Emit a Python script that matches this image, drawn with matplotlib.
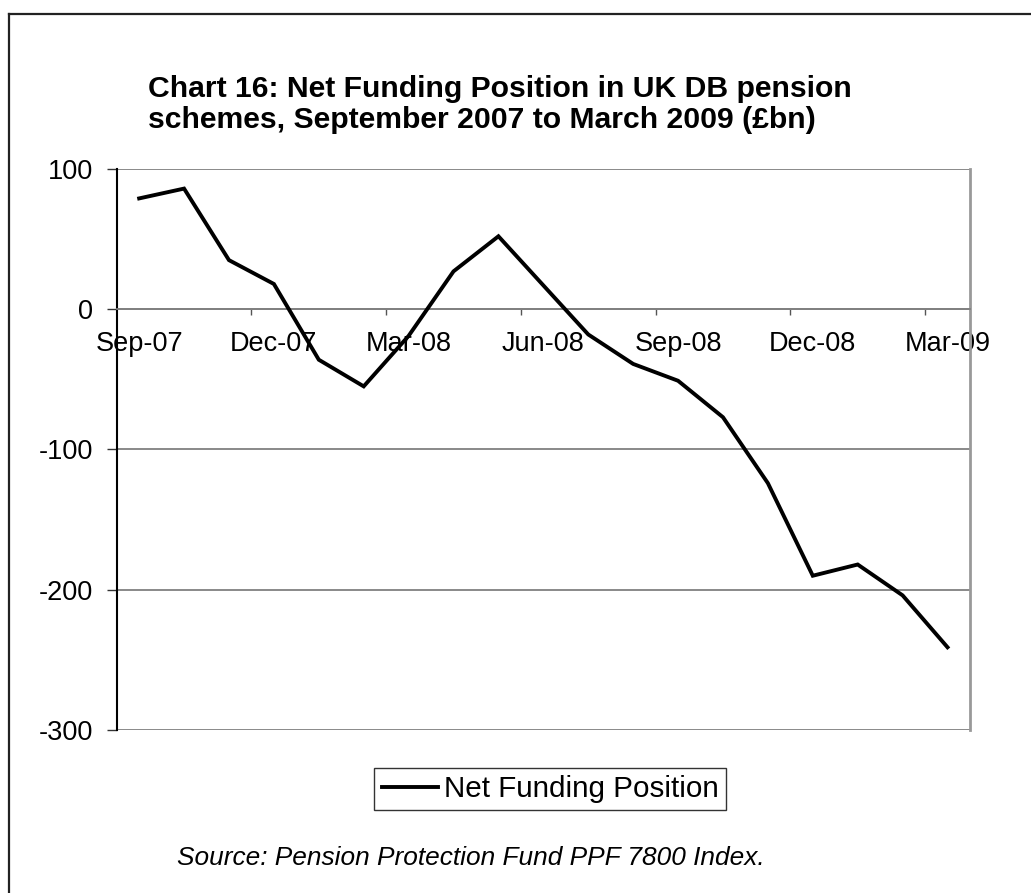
import matplotlib
matplotlib.use("Agg")
import matplotlib.pyplot as plt
from matplotlib.lines import Line2D

plt.rcParams['font.family'] = ['Liberation Sans', 'DejaVu Sans']

# Net funding position by month, £bn
months = [
    "Sep-07", "Oct-07", "Nov-07", "Dec-07", "Jan-08", "Feb-08", "Mar-08",
    "Apr-08", "May-08", "Jun-08", "Jul-08", "Aug-08", "Sep-08", "Oct-08",
    "Nov-08", "Dec-08", "Jan-09", "Feb-09", "Mar-09"
]
funding = [79, 86, 35, 18, -36, -55, -19, 27, 52, 17, -18, -39, -51, -77,
           -124, -190, -182, -204, -241]
y_ticks = [100, 0, -100, -200, -300]

W, H = 1031, 893
fig = plt.figure(figsize=(W / 100, H / 100), dpi=100)
ax = fig.add_axes([0.1132, 0.1825, 0.8276, 0.6283])

x = list(range(len(months)))
ax.plot(x, funding, color='black', linewidth=2.8, label='Net Funding Position',
        solid_joinstyle='miter', zorder=3)

ax.set_xlim(-0.5, len(months) - 0.5)
ax.set_ylim(-300, 100)

# horizontal gridlines
ax.set_yticks(y_ticks)
ax.set_yticklabels([str(v) for v in y_ticks], fontsize=19.5)
ax.yaxis.grid(True, color='#808080', linewidth=1.3)
ax.tick_params(axis='y', direction='out', length=7, width=1, color='#333333', pad=10)

# category axis crosses at zero, tick marks between categories
ax.spines['bottom'].set_position(('data', 0))
ax.spines['bottom'].set_color('#808080')
ax.spines['bottom'].set_linewidth(1.3)
ax.spines['top'].set_visible(False)
ax.spines['right'].set_color('#999999')
ax.spines['right'].set_linewidth(2)
ax.spines['left'].set_color('black')
ax.spines['left'].set_linewidth(1.5)

ax.set_xticks([i - 0.5 for i in range(3, len(months), 3)])
ax.set_xticklabels([])
ax.tick_params(axis='x', which='major', direction='out', length=4, width=1,
               color='#555555')
ax.set_xticks(x[::3], minor=True)
ax.set_xticklabels(months[::3], minor=True, fontsize=19.5)
ax.tick_params(axis='x', which='minor', length=0, pad=16)

title_lines = ["Chart 16: Net Funding Position in UK DB pension",
               "schemes, September 2007 to March 2009 (£bn)"]
for line, base in zip(title_lines, [97, 128]):
    fig.text(148 / W, 1 - base / H, line, fontsize=21.7, fontweight='bold',
             ha='left', va='baseline')

ax.legend(loc='center', bbox_to_anchor=(550 / W, 1 - 789 / H),
          bbox_transform=fig.transFigure, fontsize=21.3, frameon=True,
          fancybox=False, edgecolor='black', handlelength=1.9,
          handletextpad=0.2, borderpad=0.25)

fig.text(471 / W, 1 - 858 / H, "Source: Pension Protection Fund PPF 7800 Index.",
         fontsize=18.9, style='italic', ha='center', va='center')

# outer frame along the top and left edges
fig.add_artist(Line2D([9 / W, 1.0], [1 - 14 / H, 1 - 14 / H],
                      transform=fig.transFigure, color='#222222', linewidth=1.6))
fig.add_artist(Line2D([9 / W, 9 / W], [0.0, 1 - 14 / H],
                      transform=fig.transFigure, color='#222222', linewidth=1.6))

fig.savefig("out.png", dpi=100)
